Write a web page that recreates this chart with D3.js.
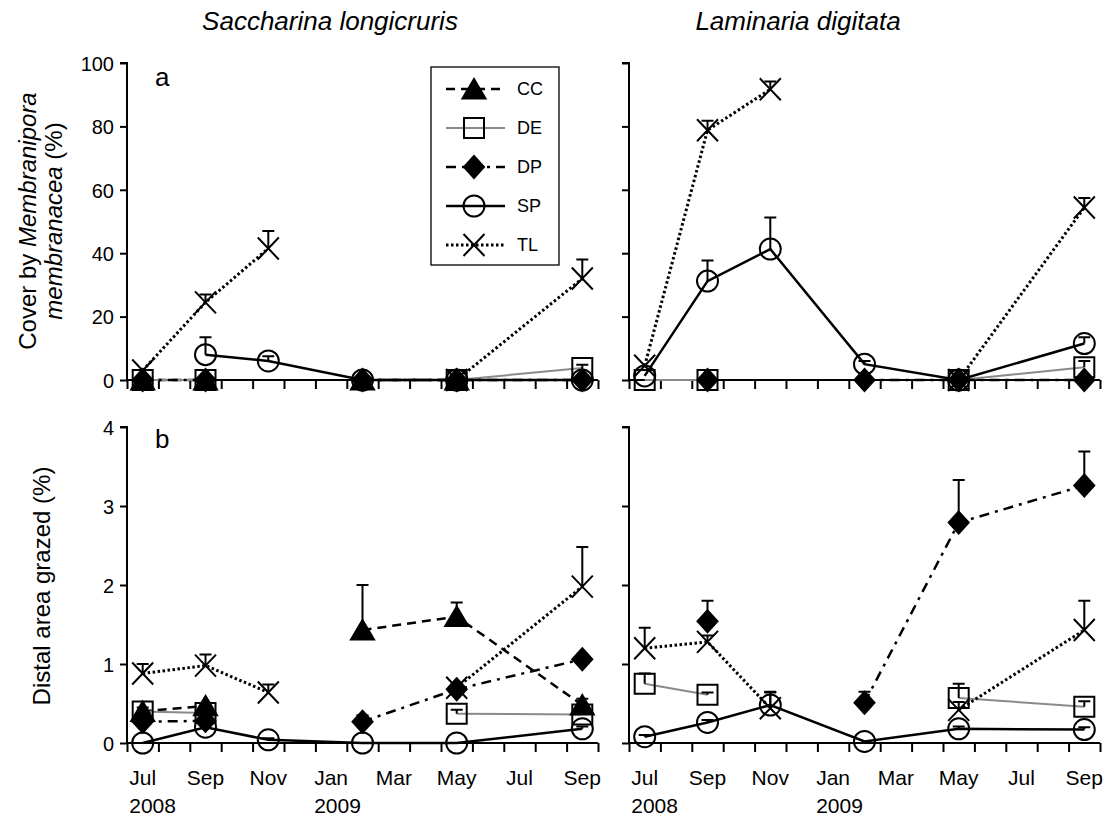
<!DOCTYPE html>
<html><head><meta charset="utf-8">
<script src="https://cdn.jsdelivr.net/npm/d3@7/dist/d3.min.js"></script>
<style>body{margin:0;background:#fff} svg{font-family:"Liberation Sans",Arial,sans-serif}</style>
</head><body><svg id="c" width="1110" height="820"></svg>
<script>
// ---------- data ----------
const dates = ["2008-07","2008-09","2008-11","2009-02","2009-05","2009-09"];
const monthLabels = ["Jul","Sep","Nov","Jan","Mar","May","Jul","Sep"];
const yearLabels = ["2008","","","2009","","","",""];
const speciesTitles = ["Saccharina longicruris","Laminaria digitata"];
const seriesNames = ["CC","DE","DP","SP","TL"];
const coverTicks = [0,20,40,60,80,100];
const grazeTicks = [0,1,2,3,4];

// (a) cover by Membranipora membranacea (%), Saccharina longicruris
const coverSacCC = [0, 0, null, 0, 0, null];
const coverSacCCErr = [0, 0, 0, 0, 0, 0];
const coverSacDE = [0, 0, null, null, 0, 3.8];
const coverSacDEErr = [0, 0, 0, 0, 0, 1];
const coverSacDP = [0, 0, null, 0, 0, 0];
const coverSacDPErr = [0, 0, 0, 0, 0, 0];
const coverSacSP = [null, 8, 6, 0, 0, 0];
const coverSacSPErr = [0, 5.5, 1.5, 0, 0, 0];
const coverSacTL = [3, 24.5, 41.5, null, 0, 32];
const coverSacTLErr = [0, 2.5, 5.5, 0, 0, 6];

// (a) Laminaria digitata
const coverLamCC = [null, null, null, null, null, null];
const coverLamCCErr = [0, 0, 0, 0, 0, 0];
const coverLamDE = [0, 0, null, null, 0, 4];
const coverLamDEErr = [0, 0, 0, 0, 0, 2];
const coverLamDP = [null, 0, null, 0, 0, 0];
const coverLamDPErr = [0, 0, 0, 0, 0, 0];
const coverLamSP = [1.3, 31.2, 41.3, 5, 0, 11.5];
const coverLamSPErr = [0, 6.5, 10, 1, 0, 2];
const coverLamTL = [4.5, 78.8, 91.7, null, 0, 54.4];
const coverLamTLErr = [0, 3, 2.5, 0, 0, 3];

// (b) distal area grazed (%), Saccharina longicruris
const grazeSacCC = [0.4, 0.47, null, 1.43, 1.6, 0.48];
const grazeSacCCErr = [0, 0, 0, 0.57, 0.18, 0.08];
const grazeSacDE = [0.4, 0.38, null, null, 0.37, 0.36];
const grazeSacDEErr = [0.05, 0.05, 0, 0, 0.05, 0.05];
const grazeSacDP = [0.27, 0.28, null, 0.27, 0.68, 1.06];
const grazeSacDPErr = [0.05, 0.08, 0, 0.08, 0.05, 0.05];
const grazeSacSP = [0, 0.2, 0.04, 0, 0, 0.18];
const grazeSacSPErr = [0, 0, 0.02, 0, 0, 0.03];
const grazeSacTL = [0.88, 0.98, 0.64, null, 0.7, 1.98];
const grazeSacTLErr = [0.12, 0.14, 0.1, 0, 0.05, 0.5];

// (b) Laminaria digitata
const grazeLamCC = [null, null, null, null, null, null];
const grazeLamCCErr = [0, 0, 0, 0, 0, 0];
const grazeLamDE = [0.75, 0.61, null, null, 0.57, 0.46];
const grazeLamDEErr = [0.13, 0.03, 0, 0, 0.18, 0.07];
const grazeLamDP = [null, 1.54, null, 0.51, 2.79, 3.26];
const grazeLamDPErr = [0, 0.26, 0, 0.14, 0.54, 0.43];
const grazeLamSP = [0.08, 0.26, 0.48, 0.02, 0.18, 0.17];
const grazeLamSPErr = [0.02, 0.03, 0.17, 0, 0.03, 0.03];
const grazeLamTL = [1.2, 1.28, 0.44, null, 0.42, 1.43];
const grazeLamTLErr = [0.26, 0.08, 0.2, 0, 0.1, 0.37];

// ---------- styles ----------
const styles = {
  CC: {stroke:"#000", width:2.5, dash:"9,6", marker:"triangle"},
  DE: {stroke:"#8a8a8a", width:2, dash:null, marker:"square"},
  DP: {stroke:"#000", width:2.5, dash:"10,6,3,6", marker:"diamond"},
  SP: {stroke:"#000", width:2.5, dash:null, marker:"circle"},
  TL: {stroke:"#000", width:3, dash:"2.5,2.5", marker:"x"}
};
function markerPath(type){
  switch(type){
    case "triangle": return "M0,-10L11.5,9.5L-11.5,9.5Z";
    case "square": return "M-10,-10H10V10H-10Z";
    case "diamond": return "M0,-11L10,0L0,11L-10,0Z";
    case "circle": return "M10.5,0A10.5,10.5 0 1,1 -10.5,0A10.5,10.5 0 1,1 10.5,0Z";
    case "x": return "M-10.5,-11L10.5,11M-10.5,11L10.5,-11";
  }
}
function drawMarker(g, type, x, y){
  const filled = (type==="triangle"||type==="diamond");
  g.append("path").attr("d", markerPath(type))
   .attr("transform",`translate(${x},${y})`)
   .attr("fill", filled ? "#000" : "none")
   .attr("stroke","#000").attr("stroke-width", 2);
}

const svg = d3.select("#c");
const monthIdx = d => { const [y,m] = d.split("-").map(Number); return (y-2008)*12 + (m-7) + 0.5; };

const cols = [[127,598],[629,1100]];
const rows = [
  {domain:[0,100], range:[380,63], ticks:coverTicks, label:"a"},
  {domain:[0,4], range:[743,427], ticks:grazeTicks, label:"b"}
];
const panelData = [
  [ {CC:[coverSacCC,coverSacCCErr],DE:[coverSacDE,coverSacDEErr],DP:[coverSacDP,coverSacDPErr],SP:[coverSacSP,coverSacSPErr],TL:[coverSacTL,coverSacTLErr]},
    {CC:[coverLamCC,coverLamCCErr],DE:[coverLamDE,coverLamDEErr],DP:[coverLamDP,coverLamDPErr],SP:[coverLamSP,coverLamSPErr],TL:[coverLamTL,coverLamTLErr]} ],
  [ {CC:[grazeSacCC,grazeSacCCErr],DE:[grazeSacDE,grazeSacDEErr],DP:[grazeSacDP,grazeSacDPErr],SP:[grazeSacSP,grazeSacSPErr],TL:[grazeSacTL,grazeSacTLErr]},
    {CC:[grazeLamCC,grazeLamCCErr],DE:[grazeLamDE,grazeLamDEErr],DP:[grazeLamDP,grazeLamDPErr],SP:[grazeLamSP,grazeLamSPErr],TL:[grazeLamTL,grazeLamTLErr]} ]
];

rows.forEach((row, ri) => {
  cols.forEach((col, ci) => {
    const x = d3.scaleLinear().domain([0,15]).range(col);
    const y = d3.scaleLinear().domain(row.domain).range(row.range);
    const g = svg.append("g");

    // y axis
    const yAxis = d3.axisLeft(y).tickValues(row.ticks).tickSize(7).tickPadding(6)
      .tickFormat(ci===0 ? d3.format("d") : () => "");
    const ya = g.append("g").attr("transform",`translate(${col[0]},0)`).call(yAxis);
    ya.select(".domain").attr("stroke-width",2).attr("d", `M-7,${row.range[1]}H0V${row.range[0]}`);
    ya.selectAll(".tick line").attr("stroke-width",2);
    ya.selectAll("text").attr("font-size",20).attr("fill","#000").attr("dy","0.36em");

    // x axis
    const xAxis = d3.axisBottom(x).tickValues(d3.range(0,16)).tickSize(9).tickFormat("");
    const xa = g.append("g").attr("transform",`translate(0,${row.range[0]})`).call(xAxis);
    xa.select(".domain").attr("stroke-width",2).attr("d",`M${col[0]},0H${col[1]}`);
    xa.selectAll(".tick line").attr("stroke-width",2);

    if (ri===1){
      monthLabels.forEach((m,i) => {
        const cx = x(i*2 + 0.5);
        const t = g.append("text").attr("x",cx).attr("y",785).attr("text-anchor","middle")
          .attr("font-size",21).text(m);
        if (yearLabels[i]){
          const bb = t.node().getBBox();
          g.append("text").attr("x",bb.x).attr("y",813).attr("font-size",21).text(yearLabels[i]);
        }
      });
    }

    // series
    const pd = panelData[ri][ci];
    seriesNames.forEach(name => {
      const [vals, errs] = pd[name];
      const st = styles[name];
      const pts = dates.map((d,i) => ({x:x(monthIdx(d)), v:vals[i], e:errs[i]}));
      const line = d3.line().defined(p => p.v!==null).x(p => p.x).y(p => y(p.v));
      g.append("path").attr("d", line(pts)).attr("fill","none")
        .attr("stroke", st.stroke).attr("stroke-width", st.width)
        .attr("stroke-dasharray", st.dash);
    });
    seriesNames.forEach(name => {
      const [vals, errs] = pd[name];
      const st = styles[name];
      dates.forEach((d,i) => {
        if (vals[i]===null) return;
        const px = x(monthIdx(d)), py = y(vals[i]);
        drawMarker(g, st.marker, px, py);
        if (errs[i] > 0){
          const ty = y(vals[i] + errs[i]);
          g.append("path").attr("d",`M${px},${py}V${ty}M${px-6},${ty}H${px+6}`)
            .attr("stroke","#000").attr("stroke-width",2).attr("fill","none");
        }
      });
    });

    if (ci===0){
      g.append("text").attr("x",155).attr("y", ri===0 ? 86 : 448).attr("font-size",26).text(row.label);
    }
  });
});

// titles
svg.append("text").attr("x",330).attr("y",30).attr("text-anchor","middle")
  .attr("font-size",26).attr("font-style","italic").text(speciesTitles[0]);
svg.append("text").attr("x",798).attr("y",30).attr("text-anchor","middle")
  .attr("font-size",26).attr("font-style","italic").text(speciesTitles[1]);

// y axis titles
const yt1 = svg.append("text").attr("transform","translate(36,221) rotate(-90)")
  .attr("text-anchor","middle").attr("font-size",24);
yt1.append("tspan").text("Cover by ");
yt1.append("tspan").attr("font-style","italic").text("Membranipora");
const yt2 = svg.append("text").attr("transform","translate(62,221) rotate(-90)")
  .attr("text-anchor","middle").attr("font-size",24);
yt2.append("tspan").attr("font-style","italic").text("membranacea");
yt2.append("tspan").text(" (%)");
svg.append("text").attr("transform","translate(50,586) rotate(-90)")
  .attr("text-anchor","middle").attr("font-size",24).text("Distal area grazed (%)");

// legend
const lg = svg.append("g");
lg.append("rect").attr("x",431).attr("y",67).attr("width",128).attr("height",198)
  .attr("fill","#fff").attr("stroke","#000").attr("stroke-width",1.3);
const legendY = d3.scalePoint().domain(seriesNames).range([89,245]);
seriesNames.forEach(name => {
  const st = styles[name];
  const yy = legendY(name);
  lg.append("path").attr("d",`M446,${yy}H505`).attr("stroke",st.stroke)
    .attr("stroke-width",st.width).attr("stroke-dasharray",st.dash);
  drawMarker(lg, st.marker, 474, yy);
  lg.append("text").attr("x",517).attr("y",yy).attr("dy","0.36em").attr("font-size",18).text(name);
});
</script></body></html>
